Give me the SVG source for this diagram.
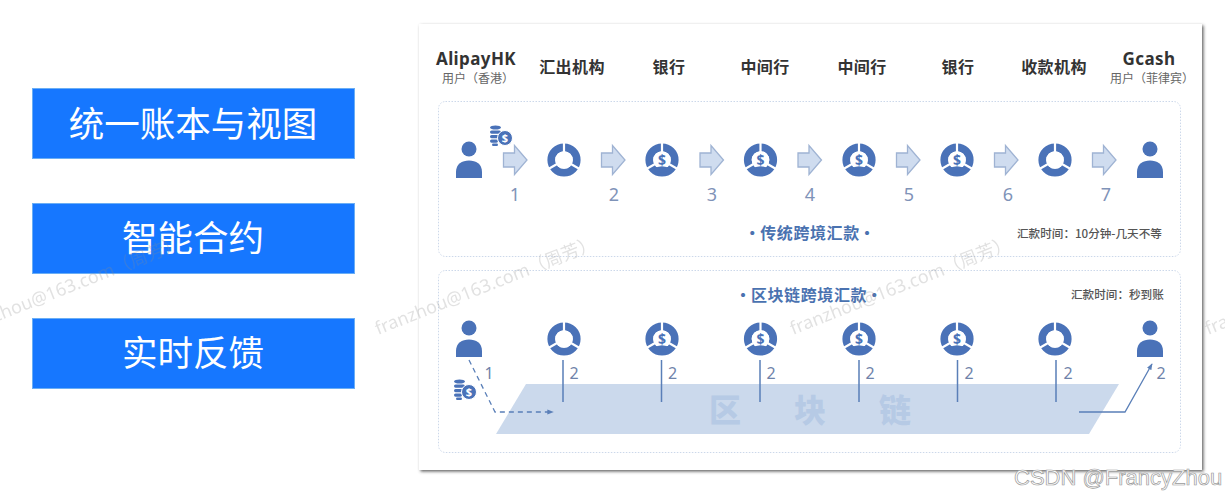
<svg xmlns="http://www.w3.org/2000/svg" width="1225" height="496" viewBox="0 0 1225 496">
<style>
text{font-family:"Noto Sans CJK SC","Noto Sans",sans-serif}
.box{fill:#1677ff;stroke:#6aaef5;stroke-width:1}
.boxt{font-size:35.500px;fill:#fff;text-anchor:middle}
.panel{fill:#fff;stroke:#ccd8ea;stroke-width:1;stroke-dasharray:1.5 1.5}
.head{font-size:16px;font-weight:700;fill:#333;text-anchor:middle;letter-spacing:.4px}
.sub{font-size:12px;fill:#666;text-anchor:middle}
.num{font-size:18px;fill:#7f93b8;text-anchor:middle;font-family:"Noto Sans",sans-serif}
.num2{font-size:16px;fill:#6f83aa;text-anchor:middle;font-family:"Noto Sans",sans-serif}
.title{font-size:16px;font-weight:700;fill:#4a72b0;text-anchor:middle;letter-spacing:.6px;word-spacing:-5px}
.time{font-size:11.600px;font-weight:500;fill:#555}
.chain{font-size:32px;font-weight:900;fill:#b6cae5;text-anchor:middle}
.vline{stroke:#5a7fb8;stroke-width:1.5;fill:none}
.flow{stroke:#5a7fb8;stroke-width:1.3;fill:none}
.wm{font-size:18px;fill:#8c8c8c;opacity:.25;font-family:"Noto Sans","Noto Sans CJK SC",sans-serif}
.icon{fill:#4a72b8}
.csdn{font-family:"Liberation Sans",sans-serif;font-size:22px;fill:#fff;stroke:#9a9a9a;stroke-width:.7}
</style>
<defs>
<filter id="sh" x="-3%" y="-3%" width="106%" height="106%"><feDropShadow dx="1.500" dy="1.500" stdDeviation="1.600" flood-color="#444" flood-opacity=".85"/></filter>
<marker id="ah" viewBox="0 0 8 8" refX="7" refY="4" markerWidth="5" markerHeight="5" orient="auto"><path d="M0 1L8 4L0 7Z" fill="#5a7fb8"/></marker>
<g id="user">
<circle class="icon" cx="0" cy="-10" r="7.500"/>
<path class="icon" d="M-13 19V13C-13 5-7 1.500 0 1.500S13 5 13 13V19Z"/>
</g>
<g id="ringbase">
<circle cx="0" cy="0" r="12.700" fill="none" stroke="#4a72b8" stroke-width="7.800"/>
<path d="M0 0V-18M0 0L15.600 9M0 0L-15.600 9" stroke="#fff" stroke-width="2.200" fill="none"/>
</g>
<g id="org"><use href="#ringbase"/><circle r="8.800" fill="#fff"/></g>
<g id="bank"><use href="#ringbase"/><circle r="8.800" fill="#fff"/><path d="M-9 9.500Q0 3 9 9.500L0 13Z" class="icon"/><text y="4.500" font-size="14" font-weight="700" text-anchor="middle" fill="#4a72b8" style="font-family:'Noto Sans',sans-serif">$</text></g>
<path id="arrow" d="M0.500 8H11.500V0.500L24 15L11.500 29.500V22H0.500Z" fill="#cfdcef" stroke="#9fb3d3" stroke-width="1.300"/>
<g id="coins">
<g class="icon"><ellipse cx="-9.500" cy="-10.500" rx="5.500" ry="2"/><rect x="-15" y="-7.500" width="11" height="3.200" rx="1.600"/><rect x="-15" y="-3" width="9" height="3.200" rx="1.600"/><rect x="-15" y="1.500" width="8" height="3.200" rx="1.600"/><rect x="-13" y="5.500" width="6" height="2.500" rx="1.200"/></g>
<circle r="7.500" class="icon" stroke="#fff" stroke-width="1"/><text y="4" font-size="11" font-weight="700" text-anchor="middle" fill="#fff" style="font-family:'Noto Sans',sans-serif">$</text>
</g>
</defs>
<rect width="1225" height="496" fill="#fff"/>
<g id="feature-1"><rect class="box" x="32.500" y="88.500" width="322" height="70"/><text class="boxt" x="193" y="137">统一账本与视图</text></g>
<g id="feature-2"><rect class="box" x="32.500" y="203.500" width="322" height="70"/><text class="boxt" x="193" y="251">智能合约</text></g>
<g id="feature-3"><rect class="box" x="32.500" y="318.500" width="322" height="70"/><text class="boxt" x="193" y="366">实时反馈</text></g>

<rect id="card" x="419" y="24" width="783" height="446" fill="#fff" filter="url(#sh)"/>
<g id="headers">
<text class="head" x="476" y="65" style="font-family:'Noto Sans',sans-serif;font-size:17px">AlipayHK</text><text class="sub" x="478" y="83">用户（香港）</text>
<text class="head" x="572" y="73">汇出机构</text>
<text class="head" x="669" y="73">银行</text>
<text class="head" x="765" y="73">中间行</text>
<text class="head" x="862" y="73">中间行</text>
<text class="head" x="958" y="73">银行</text>
<text class="head" x="1054" y="73">收款机构</text>
<text class="head" x="1149" y="65" style="font-family:'Noto Sans',sans-serif;font-size:17px">Gcash</text><text class="sub" x="1152" y="83">用户（菲律宾）</text>
</g>
<rect id="panel-traditional" class="panel" x="438.500" y="101.500" width="742" height="155" rx="7"/>
<rect id="panel-blockchain" class="panel" x="438.500" y="270.500" width="742" height="182" rx="7"/>

<g id="traditional-nodes">
<g id="t-sender"><use href="#user" x="469" y="159"/></g>
<use id="t-coins" href="#coins" x="505" y="138"/>
<g id="t-remit"><use href="#org" x="564" y="160"/></g>
<g id="t-bank1"><use href="#bank" x="662" y="160"/></g>
<g id="t-mid1"><use href="#bank" x="760.500" y="160"/></g>
<g id="t-mid2"><use href="#bank" x="859" y="160"/></g>
<g id="t-bank2"><use href="#bank" x="957" y="160"/></g>
<g id="t-recv"><use href="#org" x="1055" y="160"/></g>
<g id="t-receiver"><use href="#user" x="1150" y="159"/></g>
</g>
<g id="traditional-connectors">
<use href="#arrow" x="503" y="145"/><use href="#arrow" x="601" y="145"/><use href="#arrow" x="699.500" y="145"/><use href="#arrow" x="797.500" y="145"/><use href="#arrow" x="896" y="145"/><use href="#arrow" x="994" y="145"/><use href="#arrow" x="1092" y="145"/>
<text class="num" x="515" y="201">1</text><text class="num" x="614" y="201">2</text><text class="num" x="712" y="201">3</text><text class="num" x="810" y="201">4</text><text class="num" x="909" y="201">5</text><text class="num" x="1008" y="201">6</text><text class="num" x="1106" y="201">7</text>
</g>
<text class="title" x="810" y="239">· 传统跨境汇款 ·</text>
<text class="time" x="1017" y="238">汇款时间：10分钟-几天不等</text>

<text class="title" x="809" y="301">· 区块链跨境汇款 ·</text>
<text class="time" x="1071" y="299">汇款时间：秒到账</text>

<g id="chain"><path d="M526 384H1119L1089 434H496Z" fill="#cbd9ec"/>
<text class="chain" x="725" y="422">区</text><text class="chain" x="810" y="422">块</text><text class="chain" x="895" y="422">链</text></g>

<g id="blockchain-nodes">
<g id="b-sender"><use href="#user" x="469" y="338"/></g>
<use id="b-coins" href="#coins" x="469" y="392"/>
<g id="b-remit"><use href="#org" x="564" y="339"/></g>
<g id="b-bank1"><use href="#bank" x="662" y="339"/></g>
<g id="b-mid1"><use href="#bank" x="760.500" y="339"/></g>
<g id="b-mid2"><use href="#bank" x="859" y="339"/></g>
<g id="b-bank2"><use href="#bank" x="957" y="339"/></g>
<g id="b-recv"><use href="#org" x="1055" y="339"/></g>
<g id="b-receiver"><use href="#user" x="1150" y="338"/></g>
</g>
<g id="blockchain-connectors">
<path class="flow" d="M469 360L495 412H553" stroke-dasharray="5 4" marker-end="url(#ah)"/>
<path class="flow" d="M1079 412H1125L1152 364" marker-end="url(#ah)"/>
<path class="vline" d="M563 360V402M661.500 360V402M760 360V402M859 360V402M957.500 360V402M1056 360V402"/>
<text class="num2" x="489" y="379">1</text><text class="num2" x="574" y="379">2</text><text class="num2" x="672.500" y="379">2</text><text class="num2" x="771" y="379">2</text><text class="num2" x="870" y="379">2</text><text class="num2" x="969" y="379">2</text><text class="num2" x="1068" y="379">2</text><text class="num2" x="1161" y="379">2</text>
</g>

<g id="watermarks">
<text class="wm" transform="translate(-37 335) rotate(-21.600)">franzhou@163.com（周芳）</text>
<text class="wm" transform="translate(378 335) rotate(-21.600)">franzhou@163.com（周芳）</text>
<text class="wm" transform="translate(793 335) rotate(-21.600)">franzhou@163.com（周芳）</text>
<text class="wm" transform="translate(1208 335) rotate(-21.600)">franzhou@163.com（周芳）</text>
</g>
<text class="csdn" x="1014" y="485">CSDN @FrancyZhou</text>
</svg>
